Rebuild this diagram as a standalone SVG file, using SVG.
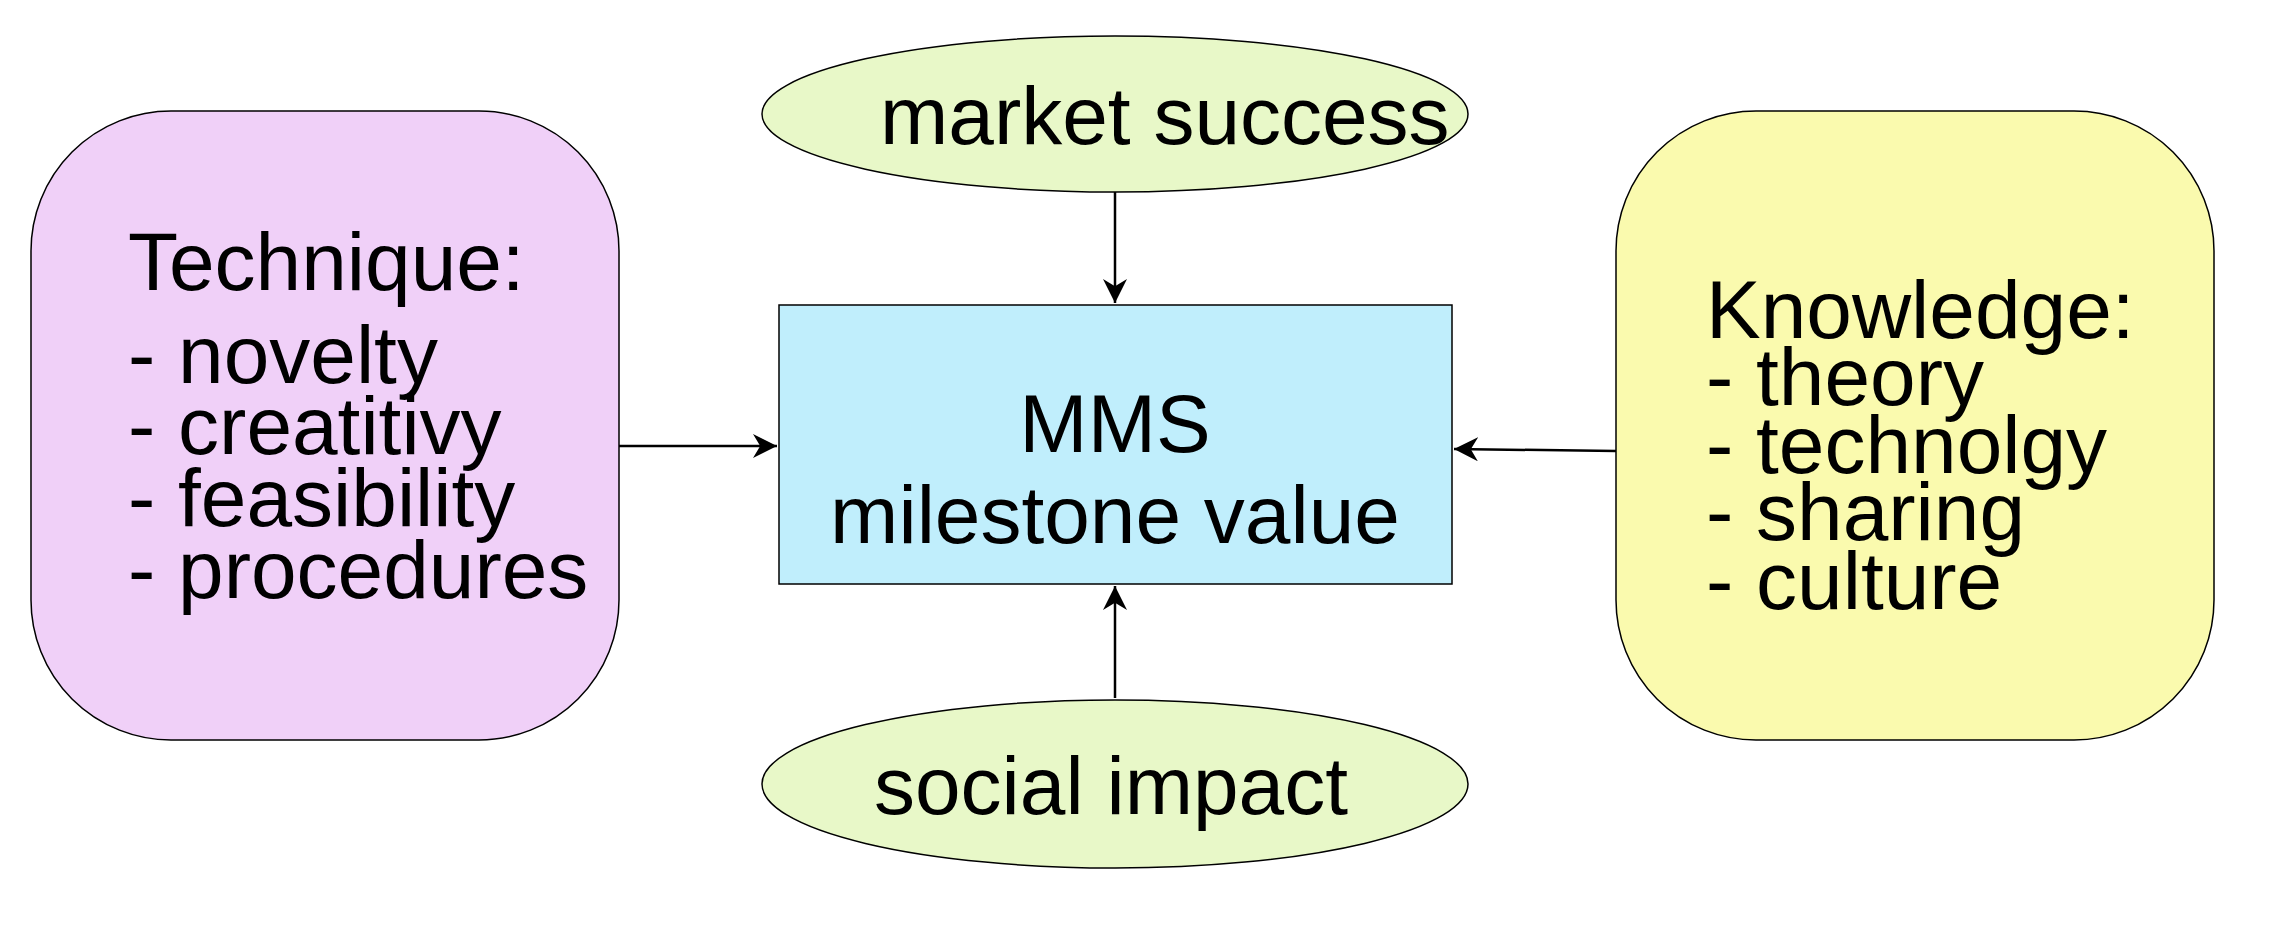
<svg xmlns="http://www.w3.org/2000/svg" width="2278" height="943" viewBox="0 0 2278 943">
<style>
text{font-family:"Liberation Sans",Arial,sans-serif;font-size:82px;fill:#000}
.n{stroke:#000;stroke-width:1.5}
.c{stroke:#000;stroke-width:2.5;fill:none}
</style>
<defs>
<marker id="ah" viewBox="0 0 10 10" refX="10" refY="5" markerWidth="24" markerHeight="24" orient="auto" markerUnits="userSpaceOnUse"><path d="M0,0 L10,5 L0,10 L3,5 z" fill="#000"/></marker></defs>
<rect width="2278" height="943" fill="#fff"/>
<g id="connectors">
<line class="c" x1="1115" y1="192" x2="1115" y2="303" marker-end="url(#ah)"/>
<line class="c" x1="1115" y1="698" x2="1115" y2="586" marker-end="url(#ah)"/>
<line class="c" x1="619" y1="446" x2="777" y2="446" stroke-width="3.5" marker-end="url(#ah)"/>
<line class="c" x1="1616" y1="451" x2="1454" y2="449" stroke-width="3.5" marker-end="url(#ah)"/>
</g>
<g id="technique"><rect class="n" x="31" y="111" width="588" height="629" rx="140" fill="#f0d0f8"/>
<text x="128" y="290">Technique:</text><text x="128" y="383">- novelty</text><text x="128" y="454">- creatitivy</text><text x="128" y="526">- feasibility</text><text x="128" y="598">- procedures</text></g>
<g id="knowledge"><rect class="n" x="1616" y="111" width="598" height="629" rx="140" fill="#fafaae"/>
<text x="1706" y="338">Knowledge:</text><text x="1706" y="405">- theory</text><text x="1706" y="473">- technolgy</text><text x="1706" y="540">- sharing</text><text x="1706" y="609">- culture</text></g>
<g id="mms"><rect class="n" x="779" y="305" width="673" height="279" fill="#c0eefc"/>
<text x="1115" y="452" text-anchor="middle">MMS</text><text x="1115" y="543" text-anchor="middle">milestone value</text></g>
<g id="market"><ellipse class="n" cx="1115" cy="114" rx="353" ry="78" fill="#e8f8c8"/><text x="880" y="144">market success</text></g>
<g id="social"><ellipse class="n" cx="1115" cy="784" rx="353" ry="84" fill="#e8f8c8"/><text x="1111" y="814" text-anchor="middle">social impact</text></g>
</svg>
